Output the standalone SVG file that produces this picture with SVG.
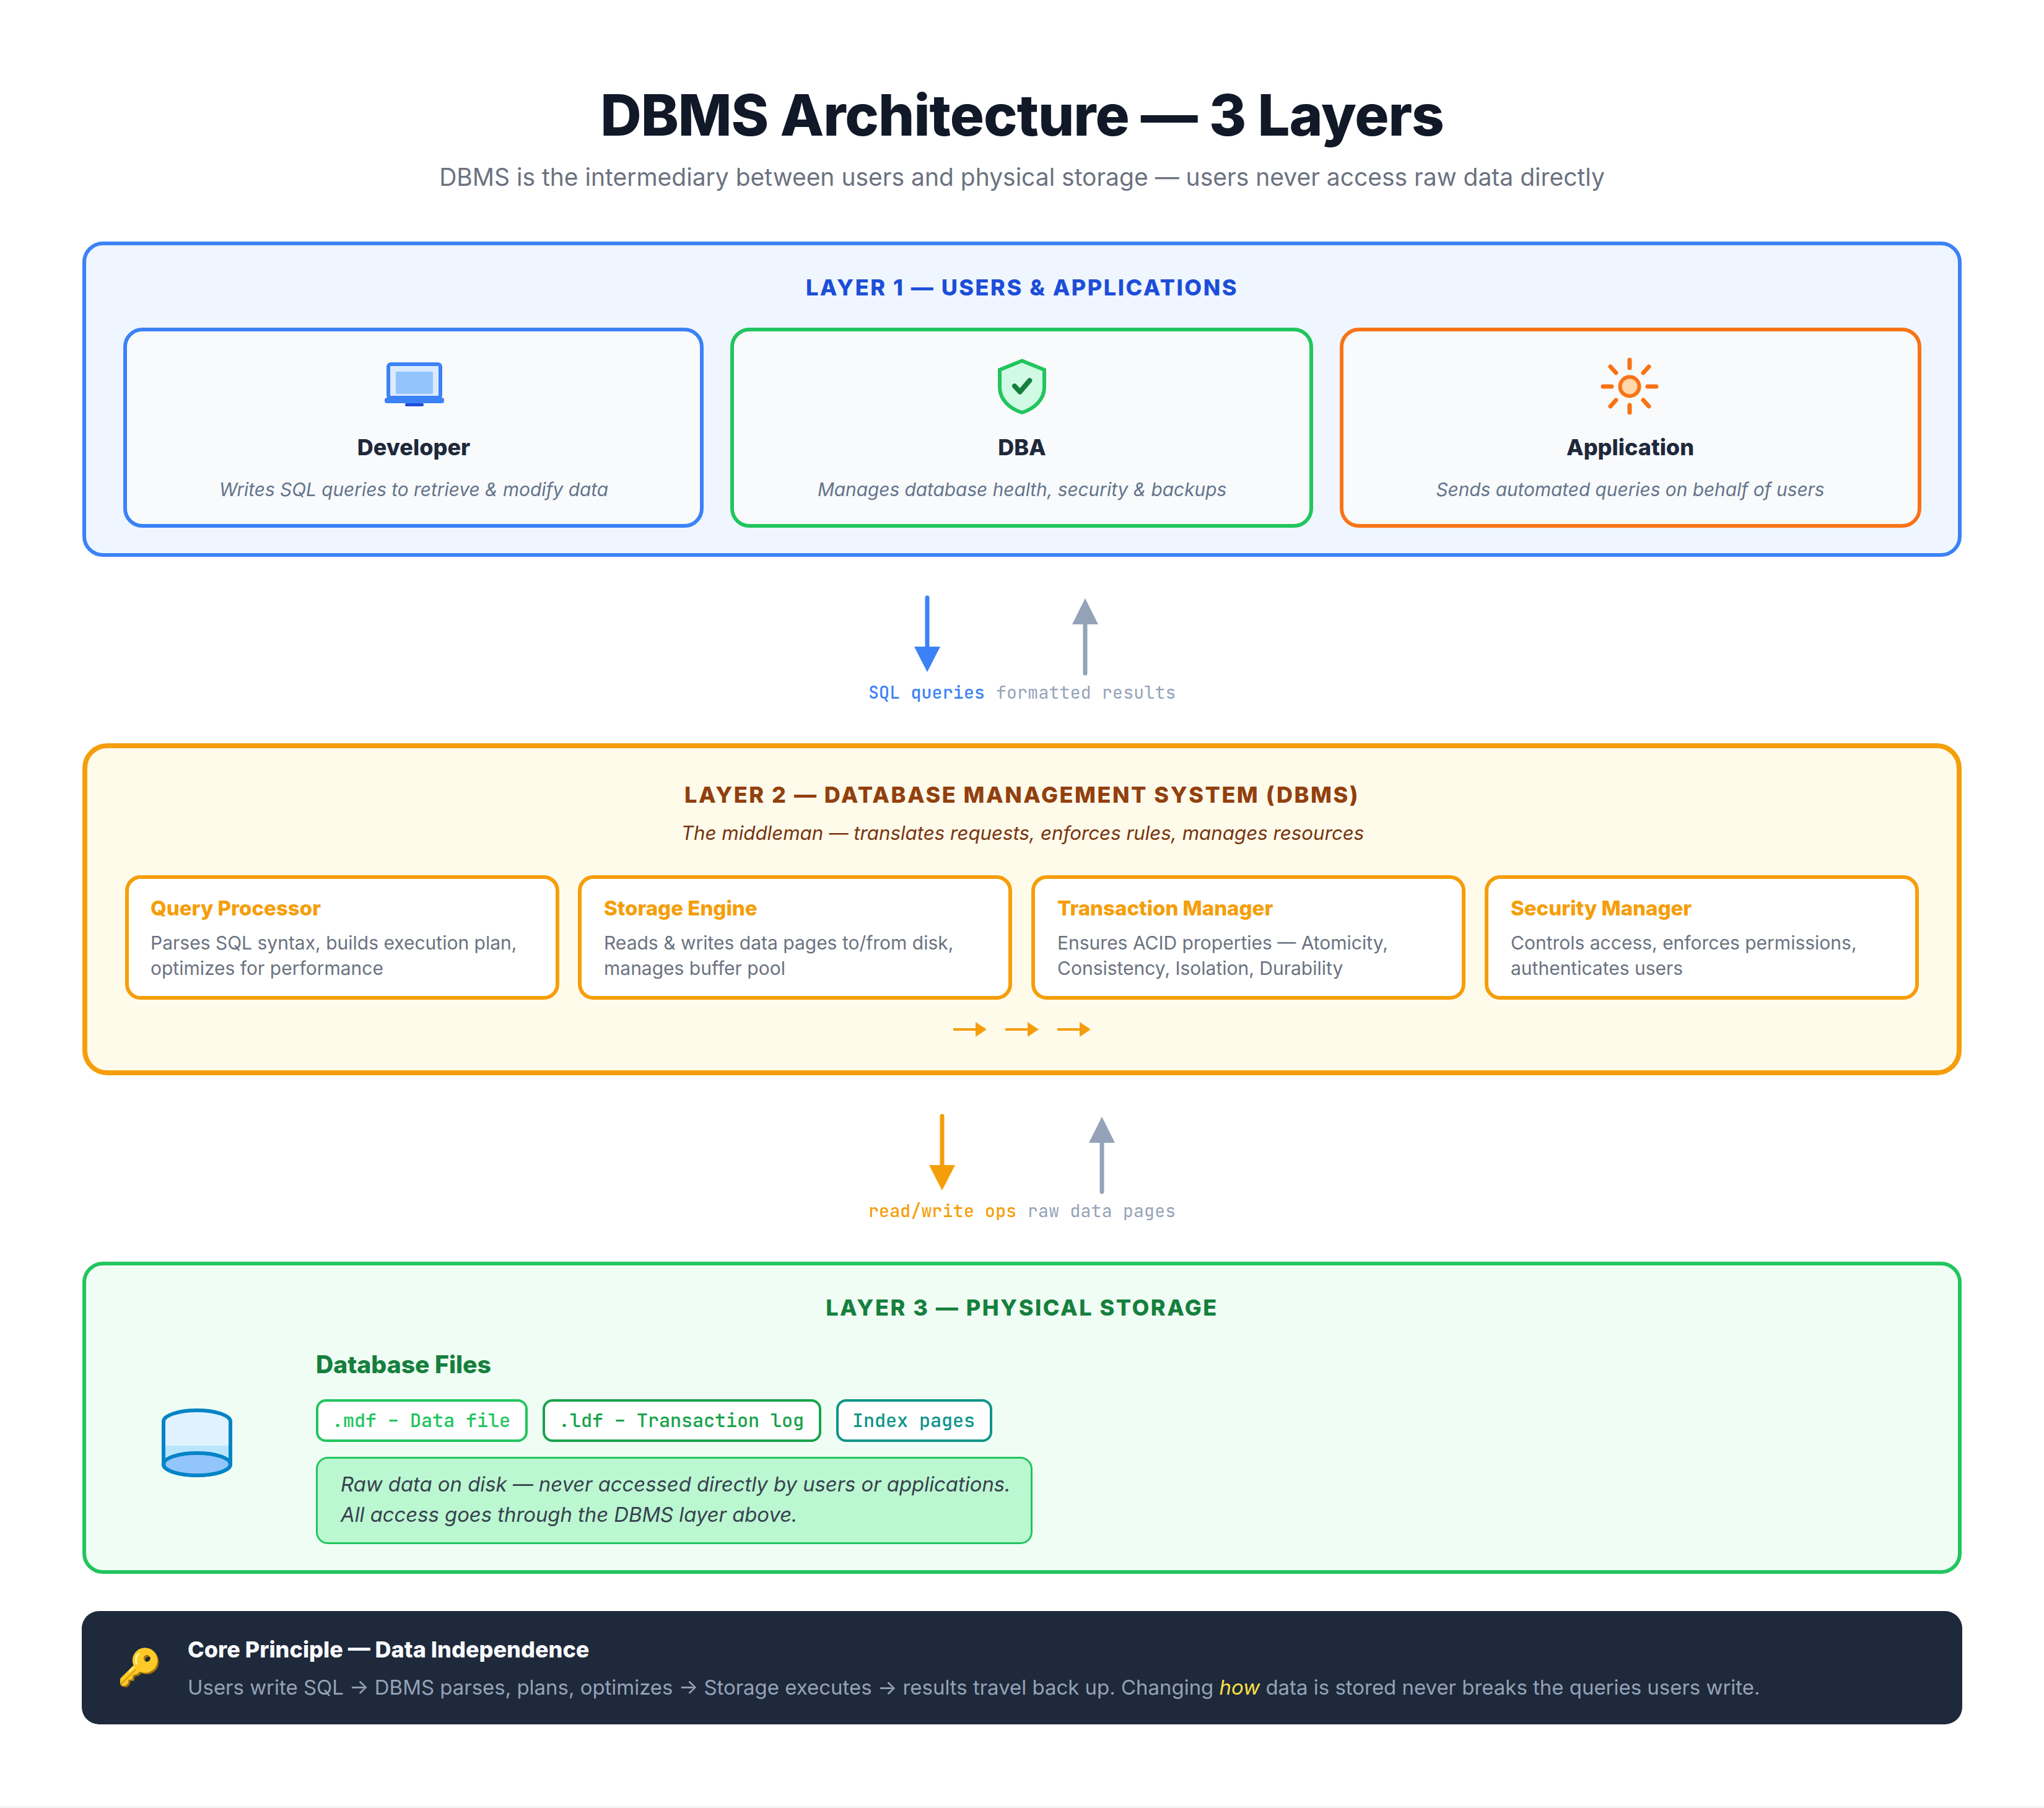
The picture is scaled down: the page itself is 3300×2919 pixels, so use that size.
<svg xmlns="http://www.w3.org/2000/svg" width="3300" height="2919" viewBox="0 0 3300 2919">
<style>
text{font-family:Inter,"Noto Sans",sans-serif}
.m{text-anchor:middle}
.title{font-size:92px;font-weight:800;fill:#111827;letter-spacing:-1px}
.sub{font-size:39px;fill:#6b7280}
.lt{font-size:36px;font-weight:800;letter-spacing:2.520px}
.ct{font-size:36px;font-weight:800;fill:#1e293b}
.cd{font-size:29.800px;font-style:italic;fill:#64748b}
.pt{font-size:33px;font-weight:800;fill:#f59e0b}
.pd{font-size:30px;fill:#6b7280}
.mono{font-family:"JetBrains Mono","DejaVu Sans Mono","Liberation Mono",monospace;font-size:28px;letter-spacing:.3px}
.bt{font-family:"JetBrains Mono","DejaVu Sans Mono","Liberation Mono",monospace;font-size:30px;font-weight:500}
.layer{stroke-width:6}
.card{fill:#f8fafc;stroke-width:6}
.proc{fill:#fff;stroke:#f59e0b;stroke-width:6}
.badge{fill:#fff;stroke-width:4}
.conn{fill:none;stroke-linecap:round}
</style>
<defs>
<marker id="hb" markerUnits="userSpaceOnUse" markerWidth="42" markerHeight="42" refX="0" refY="21" orient="auto"><polygon points="0,0 41,21 0,42" fill="#3b82f6"/></marker>
<marker id="hg" markerUnits="userSpaceOnUse" markerWidth="42" markerHeight="42" refX="0" refY="21" orient="auto"><polygon points="0,0 42,21 0,42" fill="#94a3b8"/></marker>
<marker id="ha" markerUnits="userSpaceOnUse" markerWidth="42" markerHeight="42" refX="0" refY="21" orient="auto"><polygon points="0,0 41,21 0,42" fill="#f59e0b"/></marker>
<marker id="hs" markerUnits="userSpaceOnUse" markerWidth="18" markerHeight="24" refX="0" refY="12" orient="auto"><polygon points="0,0 18,12 0,24" fill="#f59e0b"/></marker>
</defs>
<rect width="3300" height="2919" fill="#fff"/>
<rect y="2916" width="3300" height="3" fill="#f1f5f9"/>
<text id="title" class="title m" x="1650" y="219">DBMS Architecture — 3 Layers</text>
<text id="subtitle" class="sub m" x="1650" y="300">DBMS is the intermediary between users and physical storage — users never access raw data directly</text>

<g id="layer1">
<rect class="layer" x="136" y="393" width="3028" height="503" rx="30" fill="#eff6ff" stroke="#3b82f6"/>
<text class="lt m" x="1650" y="477" fill="#1d4ed8">LAYER 1 — USERS &amp; APPLICATIONS</text>
</g>
<g id="developer">
<rect class="card" x="202" y="532" width="931" height="317" rx="28" stroke="#3b82f6"/>
<rect x="627" y="588" width="84" height="54" rx="4" fill="#dbeafe" stroke="#3b82f6" stroke-width="6"/>
<rect x="639" y="600" width="60" height="36" rx="2" fill="#93c5fd"/>
<rect x="621" y="642" width="96" height="9" rx="4" fill="#3b82f6"/>
<rect x="654" y="651" width="30" height="5" rx="2" fill="#1d4ed8"/>
<text class="ct m" x="668" y="735">Developer</text>
<text class="cd m" x="668" y="801">Writes SQL queries to retrieve &amp; modify data</text>
</g>
<g id="dba">
<rect class="card" x="1182" y="532" width="935" height="317" rx="28" stroke="#22c55e"/>
<path d="M1650 582.500L1614 597V625C1614 645 1630 660 1650 666C1670 660 1686 645 1686 625V597Z" fill="#d1fae5" stroke="#22c55e" stroke-width="6"/>
<path d="M1638 623.300L1646.700 632.700L1662.300 614.300" fill="none" stroke="#15803d" stroke-width="8" stroke-linecap="round" stroke-linejoin="round"/>
<text class="ct m" x="1650" y="735">DBA</text>
<text class="cd m" x="1650" y="801">Manages database health, security &amp; backups</text>
</g>
<g id="application">
<rect class="card" x="2166" y="532" width="933" height="317" rx="28" stroke="#f97316"/>
<circle cx="2631" cy="624" r="15.500" fill="#fed7aa" stroke="#f97316" stroke-width="6"/>
<path d="M2631 581V594M2631 654V666M2588 624H2602M2660 624H2674M2600 592L2609 602M2662 592L2653 602M2600 656L2609 646M2662 656L2653 646" fill="none" stroke="#f97316" stroke-width="7" stroke-linecap="round"/>
<text class="ct m" x="2632" y="735">Application</text>
<text class="cd m" x="2632" y="801">Sends automated queries on behalf of users</text>
</g>

<g id="layer2">
<rect class="layer" style="stroke-width:8" x="137" y="1204" width="3026" height="528" rx="36" fill="#fffbeb" stroke="#f59e0b"/>
<text class="lt m" x="1650" y="1296" fill="#92400e">LAYER 2 — DATABASE MANAGEMENT SYSTEM (DBMS)</text>
<text class="m" x="1651" y="1356" font-size="31.300" font-style="italic" fill="#78350f">The middleman — translates requests, enforces rules, manages resources</text>
</g>
<g id="query-processor">
<rect class="proc" x="205" y="1416" width="695" height="195" rx="22"/>
<text class="pt" x="243" y="1478">Query Processor</text>
<text class="pd" x="243" y="1533">Parses SQL syntax, builds execution plan,</text>
<text class="pd" x="243" y="1574">optimizes for performance</text>
</g>
<g id="storage-engine">
<rect class="proc" x="936" y="1416" width="695" height="195" rx="22"/>
<text class="pt" x="975" y="1478">Storage Engine</text>
<text class="pd" x="975" y="1533">Reads &amp; writes data pages to/from disk,</text>
<text class="pd" x="975" y="1574">manages buffer pool</text>
</g>
<g id="transaction-manager">
<rect class="proc" x="1668" y="1416" width="695" height="195" rx="22"/>
<text class="pt" x="1707" y="1478">Transaction Manager</text>
<text class="pd" x="1707" y="1533">Ensures ACID properties — Atomicity,</text>
<text class="pd" x="1707" y="1574">Consistency, Isolation, Durability</text>
</g>
<g id="security-manager">
<rect class="proc" x="2400" y="1416" width="695" height="195" rx="22"/>
<text class="pt" x="2439" y="1478">Security Manager</text>
<text class="pd" x="2439" y="1533">Controls access, enforces permissions,</text>
<text class="pd" x="2439" y="1574">authenticates users</text>
</g>

<g id="layer3">
<rect class="layer" x="136" y="2040" width="3028" height="498" rx="30" fill="#f0fdf4" stroke="#22c55e"/>
<text class="lt m" x="1650" y="2124" fill="#15803d">LAYER 3 — PHYSICAL STORAGE</text>
</g>
<g id="database-icon">
<path d="M264 2295A54 18 0 0 1 372 2295V2364A54 18 0 0 1 264 2364Z" fill="#e0f2fe" stroke="#0284c7" stroke-width="6"/>
<path d="M267 2334H369V2364H267Z" fill="#bae6fd"/>
<ellipse cx="318" cy="2364" rx="54" ry="18" fill="#93c5fd" stroke="#0284c7" stroke-width="6"/>
</g>
<g id="database-files">
<text x="510" y="2217" font-size="39.100" font-weight="800" fill="#15803d">Database Files</text>
</g>
<g id="badge-mdf">
<rect class="badge" x="512" y="2261" width="338" height="65" rx="14" stroke="#22c55e"/>
<text class="bt" x="536" y="2304" fill="#22c55e">.mdf – Data file</text>
</g>
<g id="badge-ldf">
<rect class="badge" x="878" y="2261" width="446" height="65" rx="14" stroke="#16a34a"/>
<text class="bt" x="902" y="2304" fill="#16a34a">.ldf – Transaction log</text>
</g>
<g id="badge-index">
<rect class="badge" x="1352" y="2261" width="248" height="65" rx="14" stroke="#0d9488"/>
<text class="bt" x="1376" y="2304" fill="#0d9488">Index pages</text>
</g>
<g id="note">
<rect x="511.500" y="2353.500" width="1154" height="138" rx="18" fill="#bbf7d0" stroke="#22c55e" stroke-width="3"/>
<text x="550" y="2408" font-size="32.800" font-style="italic" fill="#374151">Raw data on disk — never accessed directly by users or applications.</text>
<text x="550" y="2457" font-size="32.800" font-style="italic" fill="#374151">All access goes through the DBMS layer above.</text>
</g>

<g id="connectors">
<line class="conn" x1="1497" y1="965" x2="1497" y2="1044" stroke="#3b82f6" stroke-width="7" marker-end="url(#hb)"/>
<line class="conn" x1="1752" y1="1087" x2="1752" y2="1008" stroke="#94a3b8" stroke-width="7" marker-end="url(#hg)"/>
<line class="conn" x1="1521" y1="1802" x2="1521" y2="1881" stroke="#f59e0b" stroke-width="7" marker-end="url(#ha)"/>
<line class="conn" x1="1779" y1="1924" x2="1779" y2="1845" stroke="#94a3b8" stroke-width="7" marker-end="url(#hg)"/>
<line class="conn" style="stroke-linecap:butt" x1="1539" y1="1662" x2="1575" y2="1662" stroke="#f59e0b" stroke-width="4" marker-end="url(#hs)"/>
<line class="conn" style="stroke-linecap:butt" x1="1623" y1="1662" x2="1659" y2="1662" stroke="#f59e0b" stroke-width="4" marker-end="url(#hs)"/>
<line class="conn" style="stroke-linecap:butt" x1="1707" y1="1662" x2="1743" y2="1662" stroke="#f59e0b" stroke-width="4" marker-end="url(#hs)"/>
<text class="mono" x="1402" y="1128" fill="#3b82f6" font-weight="500">SQL queries</text>
<text class="mono" x="1608" y="1128" fill="#94a3b8">formatted results</text>
<text class="mono" x="1402" y="1965" fill="#f59e0b" font-weight="500">read/write ops</text>
<text class="mono" x="1659" y="1965" fill="#94a3b8">raw data pages</text>
</g>

<g id="core-principle">
<rect x="132" y="2601" width="3036" height="183" rx="28" fill="#1e293b"/>
<text class="m" x="225" y="2712" font-size="58" style="font-family:'Noto Color Emoji',sans-serif">🔑</text>
<text x="303" y="2676" font-size="36" font-weight="800" fill="#f8fafc">Core Principle — Data Independence</text>
<text x="303" y="2736" font-size="32.950" fill="#94a3b8">Users write SQL → DBMS parses, plans, optimizes → Storage executes → results travel back up. Changing <tspan font-style="italic" fill="#fde047">how</tspan> data is stored never breaks the queries users write.</text>
</g>
</svg>
